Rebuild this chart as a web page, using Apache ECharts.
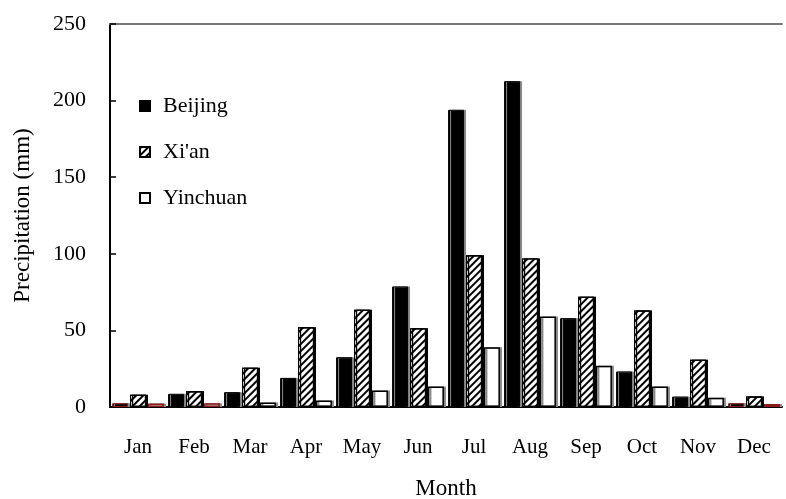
<!DOCTYPE html>
<html><head><meta charset="utf-8">
<script src="https://cdn.jsdelivr.net/npm/echarts@6/dist/echarts.min.js"></script>
<style>html,body{margin:0;padding:0;background:#fff}#c{width:786px;height:499px}</style>
</head><body><div id="c"></div>
<script>
const months = ['Jan','Feb','Mar','Apr','May','Jun','Jul','Aug','Sep','Oct','Nov','Dec'];
const beijing  = [2.5, 8.6, 9.7, 19, 32.5, 78.7, 194, 212.7, 58, 23.2, 6.8, 2.5];
const xian     = [8, 10.3, 25.6, 52, 63.4, 51.4, 99, 97, 72, 63, 30.8, 6.8];
const yinchuan = [2.3, 2.5, 3, 4.2, 10.8, 13.4, 39, 59, 27, 13.4, 6, 2];
const yTicks = [0, 50, 100, 150, 200, 250];

const FONT = 'Liberation Serif';
const chart = echarts.init(document.getElementById('c'), null, {renderer: 'canvas'});
const shadow = {shadowColor: '#8a8a8a', shadowOffsetX: 2, shadowOffsetY: 0, shadowBlur: 0};
function items(arr) {
  return arr.map(v => v < 3 ? {value: v, itemStyle: {borderColor: '#8b1a1a'}} : v);
}
chart.setOption({
  animation: false,
  backgroundColor: '#fff',
  textStyle: {fontFamily: FONT, color: '#000'},
  grid: {left: 110, right: 4, top: 24, bottom: 92, outerBoundsMode: 'none', containLabel: false},
  legend: {
    orient: 'vertical', left: 134, top: 90, itemGap: 24,
    icon: 'rect', itemWidth: 10, itemHeight: 10,
    textStyle: {fontFamily: FONT, fontSize: 22, color: '#000', lineHeight: 22, padding: [0, 0, 0, 8]},
    data: ['Beijing', "Xi'an", 'Yinchuan']
  },
  xAxis: [{
    type: 'category', data: months,
    name: 'Month', nameLocation: 'middle', nameGap: 70,
    nameTextStyle: {fontFamily: FONT, fontSize: 23, color: '#000'},
    axisLine: {lineStyle: {color: '#000', width: 2}},
    axisTick: {inside: true, length: 5, lineStyle: {color: '#000', width: 1.5}},
    axisLabel: {fontFamily: FONT, fontSize: 21, color: '#000', margin: 30}
  }, {
    type: 'category', data: months, position: 'top',
    axisLine: {show: true, lineStyle: {color: '#777', width: 2}},
    axisTick: {show: false}, axisLabel: {show: false}
  }],
  yAxis: {
    type: 'value', min: 0, max: 250, interval: 50,
    name: 'Precipitation (mm)', nameLocation: 'middle', nameGap: 76,
    nameTextStyle: {fontFamily: FONT, fontSize: 23, color: '#000'},
    axisLine: {show: true, lineStyle: {color: '#000', width: 2}},
    axisTick: {show: true, inside: true, length: 6, lineStyle: {color: '#000', width: 1.5}},
    axisLabel: {fontFamily: FONT, fontSize: 22, color: '#000', margin: 24,
      formatter: v => yTicks.includes(v) ? String(v) : ''},
    splitLine: {show: false}
  },
  series: [{
    name: 'Beijing', type: 'bar', data: items(beijing),
    barWidth: 16, barGap: '12%',
    itemStyle: Object.assign({color: '#000', borderColor: '#000', borderWidth: 1}, shadow)
  }, {
    name: "Xi'an", type: 'bar', data: items(xian),
    barWidth: 16,
    itemStyle: Object.assign({color: '#fff', borderColor: '#000', borderWidth: 1.2,
      decal: {symbol: 'rect', symbolSize: 1, color: '#000', backgroundColor: '#fff',
        dashArrayX: [1, 0], dashArrayY: [2, 3], rotation: -Math.PI / 4}}, shadow)
  }, {
    name: 'Yinchuan', type: 'bar', data: items(yinchuan),
    barWidth: 16,
    itemStyle: Object.assign({color: '#fff', borderColor: '#000', borderWidth: 1.5}, shadow)
  }]
});
</script></body></html>
